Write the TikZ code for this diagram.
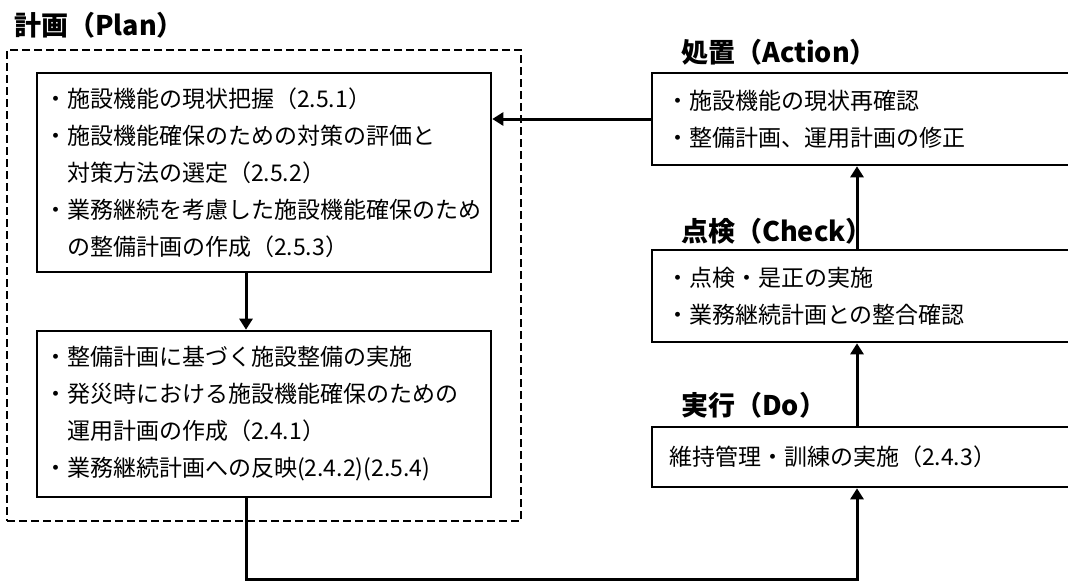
\documentclass[tikz,border=0pt]{standalone}
\usepackage{fontspec}
\setmainfont{Noto Sans CJK JP}
\usetikzlibrary{arrows.meta, positioning}

\begin{document}
\begin{tikzpicture}[x=1pt, y=-1pt,
    pbox/.style={draw, line width=2.6pt, align=left, inner xsep=7pt, inner ysep=0pt, font=\fontsize{23}{37}\selectfont},
    ptitle/.style={anchor=west, inner sep=0pt, font=\fontsize{27}{30}\selectfont\bfseries},
    flow/.style={line width=3pt, -{Triangle[length=11pt, width=13pt]}}]
    \clip (0,0) rectangle (1068,581);
    \node[draw, line width=1.8pt, dash pattern=on 8pt off 4pt, minimum width=514, minimum height=471] (plan) at (264,285.5) {};
    \node[ptitle] (plantitle) at (14,25) {計画（Plan）};

    \node[pbox, minimum width=454, minimum height=199, text width=440] (plan1) at (264,172.5)
        {・施設機能の現状把握（2.5.1）\\・施設機能確保のための対策の評価と\\　対策方法の選定（2.5.2）\\・業務継続を考慮した施設機能確保のため\\　の整備計画の作成（2.5.3）};
    \node[pbox, minimum width=454, minimum height=166, text width=440] (plan2) at (264,414)
        {・整備計画に基づく施設整備の実施\\・発災時における施設機能確保のための\\　運用計画の作成（2.4.1）\\・業務継続計画への反映(2.4.2)(2.5.4)};

    \node[pbox, inner xsep=14pt, minimum width=440, minimum height=92, text width=412] (act) at (872,119)
        {・施設機能の現状再確認\\・整備計画、運用計画の修正};
    \node[pbox, inner xsep=14pt, minimum width=440, minimum height=92, text width=412] (chk) at (872,296)
        {・点検・是正の実施\\・業務継続計画との整合確認};
    \node[pbox, inner xsep=17pt, minimum width=440, minimum height=60, text width=406] (do) at (872,457)
        {維持管理・訓練の実施（2.4.3）};

    \node[ptitle] (acttitle) at (681,52) {処置（Action）};
    \node[ptitle] (chktitle) at (681,231) {点検（Check）};
    \node[ptitle] (dotitle) at (681,405) {実行（Do）};

    \draw[flow] (act.west) -- (act.west -| plan1.east);
    \draw[flow] ([xshift=-18pt]plan1.south) -- ([xshift=-18pt]plan2.north);
    \draw[flow] ([xshift=-18pt]plan2.south) -- ++(0,81) -| ([xshift=-15pt]do.south);
    \draw[flow] ([xshift=-15pt]do.north) -- ([xshift=-15pt]chk.south);
    \draw[flow] ([xshift=-15pt]chk.north) -- ([xshift=-15pt]act.south);
\end{tikzpicture}
\end{document}
